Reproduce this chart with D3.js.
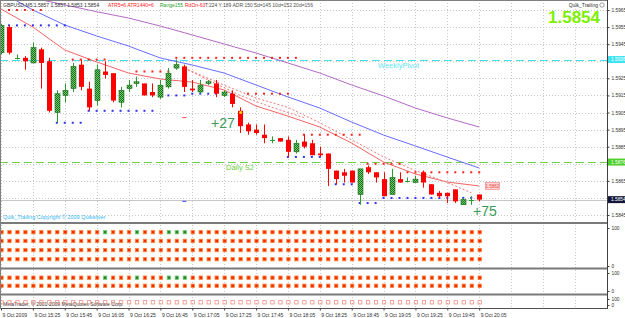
<!DOCTYPE html>
<html>
<head>
<meta charset="utf-8">
<script src="https://cdn.jsdelivr.net/npm/d3@7"></script>
<style>
  body { margin: 0; background: #fff; }
  svg { display: block; }
  text { font-family: "Liberation Sans", Arial, sans-serif; }
</style>
</head>
<body>
<svg id="chart" width="625" height="318"></svg>
<script>
// GBPUSD M5 bars, 9 Oct 2009 15:05 .. 20:05
var opens  = [1.5940,1.5955,1.5937,1.5937,1.5934,1.5942,1.5935,1.5905,1.5915,1.5919,
              1.5933,1.5919,1.5912,1.5929,1.5928,1.5911,1.5919,1.5922,1.5922,1.5917,
              1.5914,1.5920,1.5931,1.5932,1.5919,1.5917,1.5922,1.5922,1.5915,1.5916,
              1.5906,1.5898,1.5895,1.5892,1.5889,1.5890,1.5889,1.5882,1.5888,1.5887,
              1.5881,1.5881,1.5871,1.5870,1.5871,1.5857,1.5873,1.5870,1.5866,1.5857,
              1.5866,1.5865,1.5864,1.5870,1.5863,1.5858,1.5858,1.5860,1.5851,1.5854,1.5857];
var highs  = [1.5957,1.5956,1.5939,1.5938,1.5946,1.5943,1.5937,1.5918,1.5922,1.5934,
              1.5936,1.5923,1.5933,1.5935,1.5928,1.5920,1.5924,1.5926,1.5922,1.5922,
              1.5924,1.5931,1.5936,1.5933,1.5924,1.5924,1.5924,1.5924,1.5918,1.5918,
              1.5908,1.5899,1.5898,1.5898,1.5891,1.5890,1.5891,1.5889,1.5892,1.5889,
              1.5885,1.5881,1.5871,1.5872,1.5871,1.5872,1.5874,1.5870,1.5870,1.5872,
              1.5870,1.5867,1.5868,1.5871,1.5863,1.5859,1.5858,1.5860,1.5855,1.5856,1.5857];
var lows   = [1.5939,1.5939,1.5936,1.5930,1.5934,1.5919,1.5905,1.5899,1.5911,1.5917,
              1.5918,1.5906,1.5909,1.5925,1.5911,1.5908,1.5917,1.5920,1.5915,1.5914,
              1.5913,1.5919,1.5930,1.5917,1.5917,1.5916,1.5921,1.5914,1.5914,1.5908,
              1.5893,1.5892,1.5892,1.5887,1.5887,1.5888,1.5879,1.5881,1.5884,1.5880,
              1.5879,1.5862,1.5863,1.5864,1.5864,1.5851,1.5869,1.5864,1.5856,1.5857,
              1.5864,1.5864,1.5864,1.5861,1.5857,1.5855,1.5852,1.5852,1.5851,1.5851,1.5853];
var closes = [1.5956,1.5940,1.5937,1.5935,1.5943,1.5934,1.5906,1.5916,1.5918,1.5932,
              1.5920,1.5908,1.5930,1.5927,1.5912,1.5918,1.5921,1.5923,1.5915,1.5915,
              1.5921,1.5928,1.5933,1.5920,1.5918,1.5921,1.5923,1.5916,1.5917,1.5910,
              1.5897,1.5894,1.5893,1.5890,1.5889,1.5888,1.5882,1.5887,1.5885,1.5880,
              1.5880,1.5872,1.5866,1.5868,1.5864,1.5872,1.5870,1.5867,1.5856,1.5867,
              1.5864,1.5865,1.5866,1.5864,1.5857,1.5856,1.5856,1.5853,1.5854,1.5854,1.5854];

// moving averages, read every 4 bars
var maBars    = [0,4,8,12,16,20,24,28,32,36,40,44,48,52,56,60];
var maPurple  = [1.5977,1.5972,1.5968,1.5964,1.59603,1.59556,1.59504,1.59451,1.59398,1.5934,1.59281,1.59211,1.59147,1.59076,1.59018,1.58965];
var maBlue    = [1.59755,1.5965,1.59562,1.59498,1.59439,1.59369,1.59328,1.59281,1.59211,1.59141,1.59076,1.58994,1.58918,1.58854,1.58789,1.58725];
var maRed     = [1.59656,1.5955,1.59416,1.59346,1.59281,1.59246,1.59228,1.59182,1.59088,1.59029,1.58965,1.58871,1.5876,1.5869,1.58643,1.5862];
var dotABars  = [23,28,32,36,40,44,48,52,56,59];
var dotAVals  = [1.5931,1.5921,1.59135,1.5908,1.5899,1.5889,1.5879,1.5871,1.5864,1.5858];
var dotBBars  = [23,26,30,34,38];
var dotBVals  = [1.5931,1.5924,1.5915,1.5908,1.5902];

// trailing stop dots: [first bar, last bar, price]
var stopsRed  = [[1,5,1.5965],[9,13,1.5936],[17,21,1.5929],[22,37,1.5937],[31,36,1.5916],[38,45,1.5892],[46,50,1.5875],[51,60,1.5870]];
var stopsBlue = [[1,8,1.5956],[7,10,1.5899],[11,19,1.5906],[20,23,1.5915],[24,29,1.5916],[36,41,1.5879],[42,44,1.5863],[45,47,1.5852],[48,60,1.5855]];

var weeklyPivot = 1.5936, dailyS2 = 1.5876, lastPrice = 1.5854, redMaLast = 1.5862;
var signalBar = 30, signalPrice = 1.5905;

var priceTicks = [1.5965,1.5955,1.5945,1.5935,1.5925,1.5915,1.5905,1.5895,1.5885,1.5875,1.5865,1.5855,1.5845];
var timeTickBars = [0,4,8,12,16,20,24,28,32,36,40,44,48,52,56,60];
var timeLabels = ["9 Oct 2009","9 Oct 15:25","9 Oct 15:45","9 Oct 16:05","9 Oct 16:25","9 Oct 16:45","9 Oct 17:05","9 Oct 17:25",
                  "9 Oct 17:45","9 Oct 18:05","9 Oct 18:25","9 Oct 18:45","9 Oct 19:05","9 Oct 19:25","9 Oct 19:45","9 Oct 20:05"];

// sub window signal rows (levels 0..100), bars that show green
var p2Rows = [89,66,42,18];
var p3Rows = [74,29];
var p4Rows = [45];
var greenBars = [13,17,21,22,23];

var W = 625, H = 318, plotR = 607, mainB = 223;
var svg = d3.select("#chart");

var x = d3.scaleLinear().domain([0,60]).range([1,479.2]);
var y = d3.scaleLinear().domain([1.5965,1.5845]).range([10,215]);
var y2 = d3.scaleLinear().domain([0,100]).range([266,228]);
var y3 = d3.scaleLinear().domain([0,100]).range([291,273]);
var y4 = d3.scaleLinear().domain([0,100]).range([305,299]);

var defs = svg.append("defs");
var pat = defs.append("pattern").attr("id","hatch").attr("width",2).attr("height",2)
  .attr("patternUnits","userSpaceOnUse");
pat.append("rect").attr("width",2).attr("height",2).attr("fill","#6ccc6c");
pat.append("rect").attr("width",1).attr("height",1).attr("fill","#1c6e1c");
pat.append("rect").attr("x",1).attr("y",1).attr("width",1).attr("height",1).attr("fill","#1c6e1c");
defs.append("clipPath").attr("id","mainclip").append("rect")
  .attr("x",0).attr("y",0).attr("width",plotR).attr("height",mainB);

svg.append("rect").attr("width",W).attr("height",H).attr("fill","#fff");

// grid
var gridBars = d3.range(0,76,4);
var grid = svg.append("g").attr("stroke","#c8c8c8").attr("stroke-dasharray","1,2");
grid.selectAll("line.v").data(gridBars).join("line")
  .attr("x1",d => Math.round(x(d))+0.5).attr("x2",d => Math.round(x(d))+0.5)
  .attr("y1",0).attr("y2",308);
grid.selectAll("line.h").data(priceTicks).join("line")
  .attr("x1",0).attr("x2",plotR).attr("y1",d => Math.round(y(d))+0.5).attr("y2",d => Math.round(y(d))+0.5);

var main = svg.append("g").attr("clip-path","url(#mainclip)");

// levels
function hline(p, color, dash) {
  main.append("line").attr("x1",0).attr("x2",plotR)
    .attr("y1",Math.round(y(p))+0.5).attr("y2",Math.round(y(p))+0.5)
    .attr("stroke",color).attr("stroke-dasharray",dash);
}
hline(lastPrice,"#c8c8c8",null);
hline(weeklyPivot,"#3fe3ee","8,4");
hline(dailyS2,"#6fd045","8,4");

// moving averages
var line = d3.line().x(d => x(d[0])).y(d => y(d[1]));
function ma(bars, vals, color, dash) {
  main.append("path").datum(d3.zip(bars, vals)).attr("d", line)
    .attr("fill","none").attr("stroke",color).attr("stroke-width",1)
    .attr("stroke-dasharray",dash);
}
ma(maBars, maPurple, "#b56ac6", null);
ma(maBars, maBlue, "#6a6cff", null);
ma(maBars, maRed, "#f46464", null);
ma(dotABars, dotAVals, "#f47878", "2,2");
ma(dotBBars, dotBVals, "#f47878", "2,2");

// trailing dots
function dots(rows, color) {
  rows.forEach(function(r) {
    main.append("g").selectAll("rect").data(d3.range(r[0], r[1]+1)).join("rect")
      .attr("x",d => x(d)-1).attr("y",y(r[2])-1).attr("width",2).attr("height",2)
      .attr("fill",color);
  });
}
dots(stopsRed,"#ff2020");
dots(stopsBlue,"#3030ff");

// small markers
main.append("rect").attr("x",x(23)-2).attr("y",y(1.5902)-0.5).attr("width",4).attr("height",1).attr("fill","#ff4040");
main.append("rect").attr("x",x(23)-2).attr("y",y(1.5853)-0.5).attr("width",4).attr("height",1).attr("fill","#4040ff");

// candles
var bars = d3.range(opens.length);
var cg = main.append("g");
cg.selectAll("line.wick").data(bars).join("line")
  .attr("x1",d => Math.round(x(d))+0.5).attr("x2",d => Math.round(x(d))+0.5)
  .attr("y1",d => y(highs[d])).attr("y2",d => y(lows[d]))
  .attr("stroke",d => closes[d] >= opens[d] ? "#2f9a2f" : "#ff0000");
cg.selectAll("rect.body").data(bars.filter(d => closes[d] !== opens[d])).join("rect")
  .attr("x",d => Math.round(x(d))-2).attr("width",5)
  .attr("y",d => y(Math.max(opens[d],closes[d])))
  .attr("height",d => Math.max(1, Math.abs(y(opens[d]) - y(closes[d]))))
  .attr("fill",d => closes[d] > opens[d] ? "url(#hatch)" : "#ff0000")
  .attr("stroke",d => closes[d] > opens[d] ? "#1c6e1c" : "none")
  .attr("stroke-width",0.6);
cg.selectAll("line.doji").data(bars.filter(d => closes[d] === opens[d])).join("line")
  .attr("x1",d => Math.round(x(d))-2).attr("x2",d => Math.round(x(d))+3)
  .attr("y1",d => Math.round(y(opens[d]))+0.5).attr("y2",d => Math.round(y(opens[d]))+0.5)
  .attr("stroke","#2f9a2f");
main.append("circle").attr("cx",x(signalBar)+0.5).attr("cy",y(signalPrice)).attr("r",1.5).attr("fill","#ffd800");

// texts on main chart
function txt(s, tx, ty, size, color, extra) {
  var t = svg.append("text").attr("x",tx).attr("y",ty).attr("font-size",size).attr("fill",color).text(s);
  if (extra) extra(t);
  return t;
}
txt("GBPUSD,M5  1.5857  1.5857  1.5853  1.5854", 3, 7, 5, "#303030");
txt("ATR5=6  ATR1440=6", 108, 7, 5, "#ff2020");
txt("Range155", 160, 7, 5, "#2aa02a");
txt("RdOn-63", 185, 7, 5, "#ff2020");
txt("T:224  Y:189  ADR:150  5d=145  10d=152  20d=156", 205, 7, 5, "#505050");
txt("Quik_Trailing", 598, 7, 5, "#303030", t => t.attr("text-anchor","end"));
svg.append("circle").attr("cx",602).attr("cy",5).attr("r",2.2).attr("fill","none").attr("stroke","#606060").attr("stroke-width",0.6);
txt("1.5854", 600, 23, 17, "#7cf000", t => t.attr("text-anchor","end").attr("font-weight","bold"));
txt("WeeklyPivot", 378, 68, 7.5, "#5fe6f5");
txt("Daily S2", 226, 170, 7.5, "#6fd045");
txt("+27", 211, 128, 14, "#3a9a5a");
txt("+75", 473, 216, 14, "#3a9a5a");
txt("Quik_Trailing   Copyright \u00a9 2009   Quiksilver", 3, 219, 5.5, "#2fb6f0");
txt("MetaTrader, \u00a9 2001-2009 MetaQuotes Software Corp.", 3, 306, 5, "#303030");

// red MA price label
var ly = y(redMaLast);
svg.append("rect").attr("x",485.5).attr("y",ly-3.5).attr("width",14).attr("height",7)
  .attr("fill","#ffd6d6").attr("stroke","#f07a7a").attr("stroke-width",0.6);
txt("1.5862", 492.5, ly+2, 4.5, "#e04848", t => t.attr("text-anchor","middle"));

// sub windows
function squares(ys, rows, hollow) {
  rows.forEach(function(lv, ri) {
    svg.append("g").selectAll("rect").data(bars).join("rect")
      .attr("x",d => x(d)-1.2).attr("y",ys(lv)-1.7).attr("width",3.4).attr("height",3.4)
      .attr("fill",d => hollow ? "none" : (ri === 0 && greenBars.indexOf(d) >= 0 ? "#2a862a" : "#f52a00"))
      .attr("stroke",d => hollow ? "#f3907f" : (ri === 0 && greenBars.indexOf(d) >= 0 ? "#77cc77" : "#ff8a3d"))
      .attr("stroke-width",0.8);
  });
}
squares(y2, p2Rows, false);
squares(y3, p3Rows, false);
squares(y4, p4Rows, true);

// separators and frame
var frame = svg.append("g").attr("fill","none");
[223, 268.5, 294.5].forEach(function(sy) {
  frame.append("line").attr("x1",0).attr("x2",plotR).attr("y1",sy).attr("y2",sy)
    .attr("stroke","#7a7a7a").attr("stroke-width",2);
});
frame.append("line").attr("x1",0).attr("x2",plotR).attr("y1",308.5).attr("y2",308.5).attr("stroke","#505050");
frame.append("line").attr("x1",plotR+0.5).attr("x2",plotR+0.5).attr("y1",0).attr("y2",309).attr("stroke","#404040");
frame.append("line").attr("x1",0.5).attr("x2",0.5).attr("y1",0).attr("y2",309).attr("stroke","#808080");
frame.append("line").attr("x1",0).attr("x2",plotR).attr("y1",0.5).attr("y2",0.5).attr("stroke","#808080");

// price axis: labels hidden where a highlighted level box sits
var boxed = [weeklyPivot, dailyS2, lastPrice];
var shownTicks = priceTicks.filter(p => boxed.every(b => Math.abs(y(p) - y(b)) > 5));
var ax = svg.append("g").attr("transform","translate(" + (plotR+0.5) + ",0)")
  .call(d3.axisRight(y).tickValues(shownTicks).tickFormat(d3.format(".4f")).tickSize(2).tickPadding(2));
ax.select(".domain").remove();
ax.selectAll("text").attr("font-size",4.8).attr("fill","#303030").attr("font-family","Liberation Sans, Arial");
ax.selectAll("line").attr("stroke","#404040");

function priceBox(p, bg, fg) {
  svg.append("rect").attr("x",plotR+1).attr("y",y(p)-3.5).attr("width",W-plotR-1).attr("height",7).attr("fill",bg);
  txt(p.toFixed(4), plotR+4, y(p)+1.8, 4.8, fg);
}
priceBox(weeklyPivot, "#40e4f0", "#ffffff");
priceBox(dailyS2, "#4fcf2a", "#ffffff");
priceBox(lastPrice, "#15173a", "#ffffff");

// sub window scales
[[y2,[100,0]],[y3,[100,0]],[y4,[100,0]]].forEach(function(s) {
  var a = svg.append("g").attr("transform","translate(" + (plotR+0.5) + ",0)")
    .call(d3.axisRight(s[0]).tickValues(s[1]).tickSize(2).tickPadding(2));
  a.select(".domain").remove();
  a.selectAll("text").attr("font-size",4.8).attr("fill","#303030").attr("font-family","Liberation Sans, Arial");
  a.selectAll("line").attr("stroke","#404040");
});

// time axis
var tx = svg.append("g").attr("transform","translate(0,308.5)")
  .call(d3.axisBottom(x).tickValues(timeTickBars).tickFormat((d,i) => timeLabels[i]).tickSize(2).tickPadding(3));
tx.select(".domain").remove();
tx.selectAll("line").attr("stroke","#404040");
tx.selectAll("text").attr("font-size",5).attr("fill","#303030").attr("text-anchor","start")
  .attr("dx",1).attr("font-family","Liberation Sans, Arial");
</script>
</body>
</html>
